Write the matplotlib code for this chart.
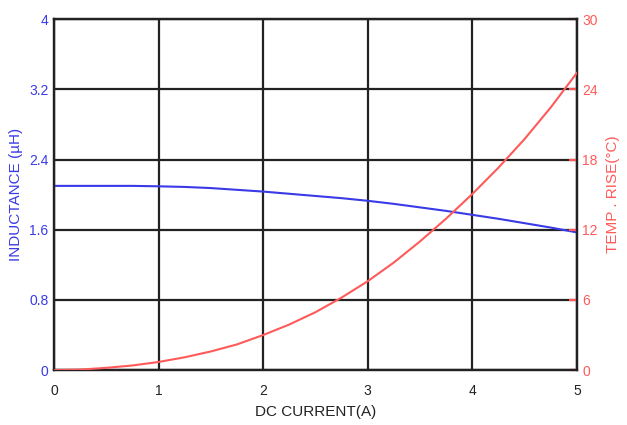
import matplotlib
matplotlib.use("Agg")
import matplotlib.pyplot as plt

plt.rcParams['font.family'] = ['Liberation Sans', 'DejaVu Sans']

# DC current (A)
current = [0, 0.25, 0.5, 0.75, 1, 1.25, 1.5, 1.75, 2, 2.25, 2.5,
           2.75, 3, 3.25, 3.5, 3.75, 4, 4.25, 4.5, 4.75, 5]
# Inductance (uH)
inductance = [2.10, 2.10, 2.10, 2.10, 2.095, 2.088, 2.075, 2.055, 2.035, 2.01, 1.985,
              1.96, 1.93, 1.895, 1.855, 1.815, 1.77, 1.725, 1.675, 1.625, 1.57]
# Temperature rise (°C)
temp_rise = [0, 0.05, 0.2, 0.4, 0.7, 1.1, 1.6, 2.2, 3.0, 3.9, 4.95,
             6.2, 7.6, 9.2, 11.0, 12.95, 15.05, 17.3, 19.75, 22.45, 25.4]

x_ticks = [0, 1, 2, 3, 4, 5]
l_ticks = [0, 0.8, 1.6, 2.4, 3.2, 4]
l_labels = ['0', '0.8', '1.6', '2.4', '3.2', '4']
r_ticks = [0, 6, 12, 18, 24, 30]

blue = '#3a3ae6'
red = '#ff5a5a'

fig = plt.figure(figsize=(6.27, 4.25), dpi=100)
ax = fig.add_axes([0.086, 0.129, 0.834, 0.826])
ax2 = ax.twinx()

ax.set_xlim(0, 5)
ax.set_ylim(0, 4)
ax2.set_ylim(0, 30)

ax.set_xticks(x_ticks)
ax.set_yticks(l_ticks)
ax.set_yticklabels(l_labels)
ax2.set_yticks(r_ticks)

ax.grid(True, color='#222222', linewidth=1.6)
ax.set_axisbelow(True)
for a in (ax, ax2):
    for s in a.spines.values():
        s.set_color('#222222')
        s.set_linewidth(1.6)

ax.tick_params(axis='x', length=0, pad=10, labelsize=10, colors='#222222')
ax.tick_params(axis='y', length=0, pad=4, labelsize=10, labelcolor=blue)
ax2.tick_params(axis='y', direction='in', length=6, width=1.6, color=red,
                pad=4, labelsize=10, labelcolor=red)

ax.plot(current, inductance, color=blue, linewidth=1.5, zorder=3)
ax2.plot(current, temp_rise, color=red, linewidth=1.5, zorder=3)

ax.set_xlabel('DC CURRENT(A)', fontsize=11, color='#222222', labelpad=5)
ax.set_ylabel('INDUCTANCE (µH)', fontsize=11, color=blue, labelpad=4)
ax2.set_ylabel('TEMP . RISE(°C)', fontsize=11, color=red, labelpad=6)

fig.savefig('out.png', dpi=100, facecolor='white')
